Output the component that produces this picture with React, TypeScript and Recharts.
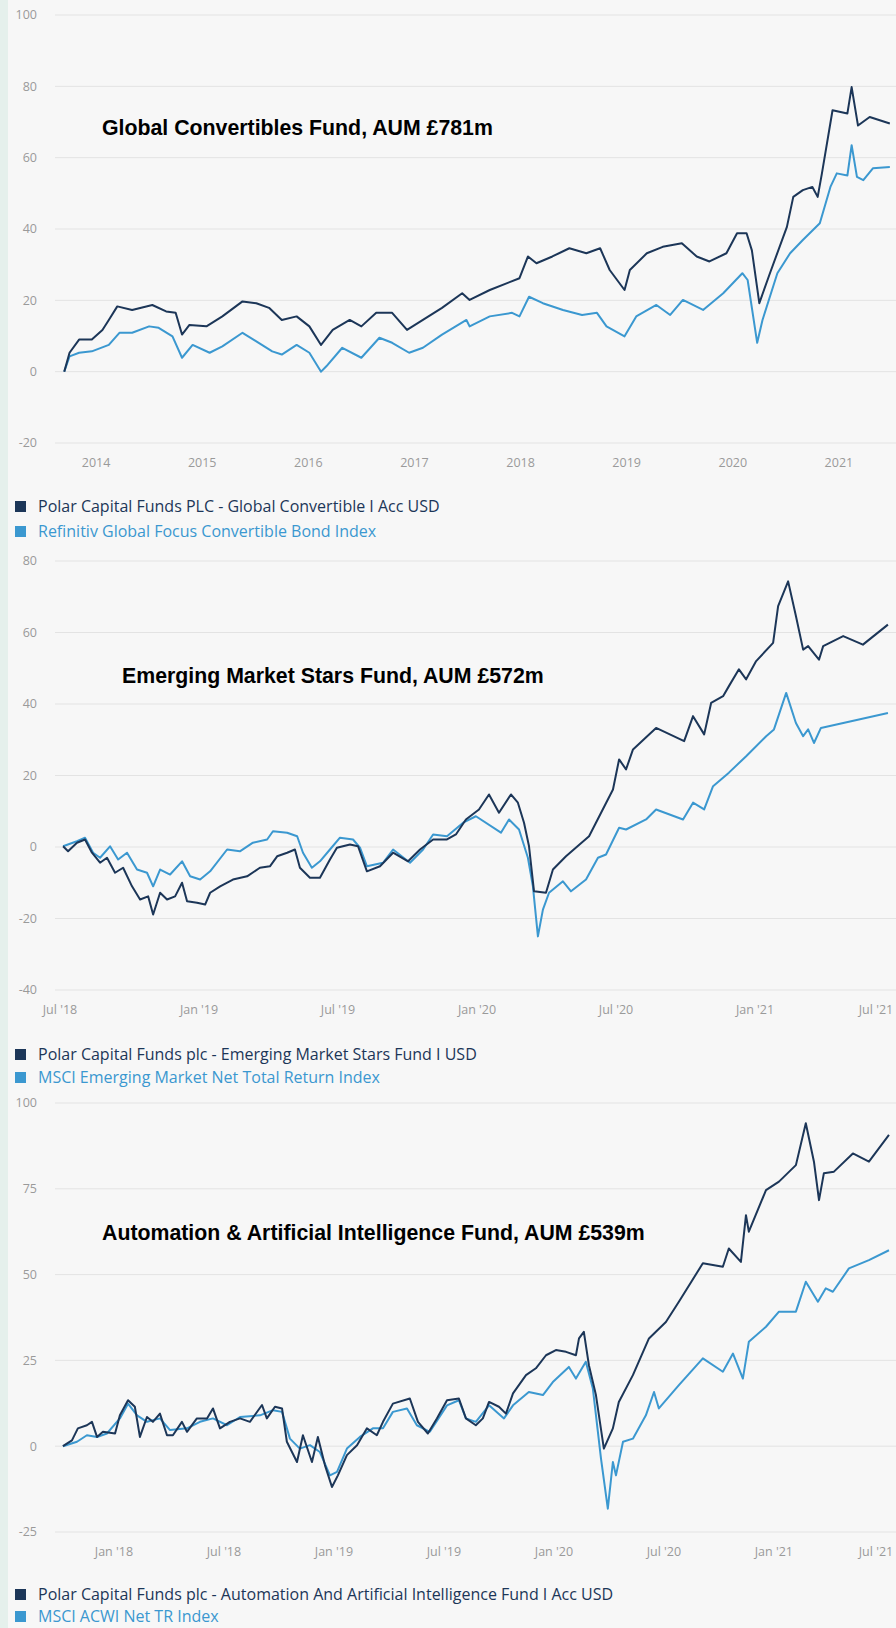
import React from 'react';
import { LineChart, Line, XAxis, YAxis, CartesianGrid } from 'recharts';

// ---------- Global Convertibles Fund ----------
const gcFundYears = [2013.70, 2013.75, 2013.84, 2013.96, 2014.06, 2014.12, 2014.20, 2014.34, 2014.53, 2014.66, 2014.75, 2014.81, 2014.88, 2015.04, 2015.19, 2015.38, 2015.51, 2015.63, 2015.75, 2015.89, 2016.01, 2016.12, 2016.23, 2016.39, 2016.50, 2016.64, 2016.79, 2016.93, 2017.08, 2017.26, 2017.45, 2017.52, 2017.71, 2017.99, 2018.07, 2018.15, 2018.30, 2018.46, 2018.62, 2018.75, 2018.84, 2018.98, 2019.03, 2019.19, 2019.34, 2019.52, 2019.66, 2019.78, 2019.94, 2020.04, 2020.13, 2020.18, 2020.25, 2020.35, 2020.51, 2020.57, 2020.66, 2020.75, 2020.80, 2020.84, 2020.94, 2021.08, 2021.12, 2021.18, 2021.29, 2021.48];
const gcFundValues = [0, 5.3, 9, 9, 11.7, 14.5, 18.3, 17.3, 18.7, 16.9, 16.5, 10.4, 13.1, 12.7, 15.5, 19.7, 19.2, 17.9, 14.5, 15.5, 12.7, 7.5, 11.7, 14.5, 12.7, 16.5, 16.5, 11.7, 14.5, 17.9, 22, 20.1, 22.9, 26.2, 32.3, 30.4, 32.3, 34.6, 33.2, 34.6, 28.5, 22.9, 28.5, 33.2, 35, 36, 32.3, 30.9, 33.2, 38.8, 38.8, 34, 19.2, 27.6, 40.6, 49, 50.9, 51.8, 49, 55.6, 73.3, 72.4, 79.8, 69, 71.4, 69.6];
const gcIndexYears = [2013.70, 2013.75, 2013.84, 2013.96, 2014.12, 2014.22, 2014.34, 2014.50, 2014.59, 2014.72, 2014.81, 2014.91, 2015.07, 2015.19, 2015.38, 2015.51, 2015.66, 2015.75, 2015.89, 2016.01, 2016.12, 2016.17, 2016.32, 2016.50, 2016.67, 2016.79, 2016.95, 2017.08, 2017.26, 2017.49, 2017.52, 2017.71, 2017.92, 2017.99, 2018.08, 2018.21, 2018.40, 2018.58, 2018.72, 2018.81, 2018.98, 2019.09, 2019.28, 2019.41, 2019.53, 2019.72, 2019.91, 2020.09, 2020.14, 2020.23, 2020.28, 2020.42, 2020.54, 2020.66, 2020.82, 2020.92, 2020.98, 2021.08, 2021.12, 2021.17, 2021.23, 2021.32, 2021.48];
const gcIndexValues = [0, 4.3, 5.3, 5.7, 7.5, 10.9, 10.9, 12.7, 12.3, 9.9, 3.9, 7.5, 5.3, 7.1, 10.9, 8.5, 5.7, 4.8, 7.5, 5.3, 0, 1.5, 6.7, 3.9, 9.5, 8.1, 5.3, 6.7, 10.4, 14.5, 12.7, 15.5, 16.5, 15.5, 21, 19.2, 17.3, 15.9, 16.5, 12.7, 9.9, 15.5, 18.7, 15.9, 20.1, 17.3, 22, 27.6, 25.7, 8.1, 14.5, 27.6, 33.2, 36.9, 41.6, 51.8, 55.6, 55, 63.5, 54.6, 53.7, 57, 57.4];
const gcXTicks = [2014, 2015, 2016, 2017, 2018, 2019, 2020, 2021];
const gcXLabels = ['2014', '2015', '2016', '2017', '2018', '2019', '2020', '2021'];
const gcYTicks = [-20, 0, 20, 40, 60, 80, 100];

// ---------- Emerging Market Stars Fund ----------
const emsFundYears = [2018.511, 2018.529, 2018.561, 2018.590, 2018.615, 2018.644, 2018.669, 2018.698, 2018.727, 2018.759, 2018.788, 2018.817, 2018.835, 2018.860, 2018.885, 2018.914, 2018.939, 2018.957, 2018.993, 2019.022, 2019.040, 2019.076, 2019.122, 2019.173, 2019.219, 2019.255, 2019.281, 2019.317, 2019.345, 2019.363, 2019.399, 2019.435, 2019.471, 2019.496, 2019.543, 2019.572, 2019.604, 2019.651, 2019.698, 2019.752, 2019.795, 2019.842, 2019.892, 2019.924, 2019.960, 2020.007, 2020.043, 2020.079, 2020.122, 2020.147, 2020.169, 2020.187, 2020.205, 2020.248, 2020.273, 2020.320, 2020.403, 2020.489, 2020.511, 2020.536, 2020.561, 2020.644, 2020.745, 2020.777, 2020.817, 2020.842, 2020.885, 2020.906, 2020.942, 2020.968, 2021.004, 2021.065, 2021.083, 2021.119, 2021.147, 2021.173, 2021.191, 2021.230, 2021.245, 2021.317, 2021.388, 2021.478];
const emsFundValues = [0.2, -1.2, 1.2, 2.1, -1.6, -4.4, -3, -7.2, -5.8, -11, -14.7, -13.8, -18.9, -12.8, -14.7, -13.8, -10, -15.2, -15.6, -16.1, -12.8, -11, -9.1, -8.2, -5.8, -5.4, -2.6, -1.6, -0.7, -5.8, -8.6, -8.6, -3.5, -0.2, 0.7, 0.2, -6.8, -5.4, -1.6, -4, -0.7, 2.1, 2.1, 3.5, 7.7, 10.5, 14.7, 9.6, 14.7, 12.4, 6.8, 0.2, -12.4, -12.8, -6.3, -2.6, 3, 16.1, 24.5, 21.7, 27.3, 33.3, 29.6, 36.6, 31.5, 40.3, 42.2, 45, 49.7, 46.9, 52, 57.1, 67.4, 74.3, 64.6, 55.2, 56.2, 52.4, 56.2, 59, 56.6, 62.2];
const emsIndexYears = [2018.511, 2018.561, 2018.590, 2018.619, 2018.644, 2018.680, 2018.709, 2018.741, 2018.777, 2018.813, 2018.835, 2018.860, 2018.896, 2018.939, 2018.968, 2019.004, 2019.040, 2019.101, 2019.147, 2019.194, 2019.245, 2019.266, 2019.317, 2019.353, 2019.374, 2019.406, 2019.435, 2019.471, 2019.507, 2019.554, 2019.579, 2019.604, 2019.662, 2019.698, 2019.759, 2019.806, 2019.842, 2019.892, 2019.950, 2019.996, 2020.086, 2020.115, 2020.151, 2020.183, 2020.201, 2020.219, 2020.237, 2020.259, 2020.309, 2020.338, 2020.392, 2020.435, 2020.464, 2020.511, 2020.536, 2020.608, 2020.644, 2020.741, 2020.777, 2020.817, 2020.849, 2020.906, 2020.968, 2021.040, 2021.068, 2021.112, 2021.147, 2021.173, 2021.191, 2021.212, 2021.237, 2021.478];
const emsIndexValues = [0.2, 1.6, 2.6, -1.6, -3, 0.2, -3.5, -1.6, -6.3, -7.2, -11, -6.3, -7.7, -4, -8.2, -9.1, -6.8, -0.7, -1.2, 1.2, 2.1, 4.4, 4, 3, -1.6, -5.8, -4, -0.7, 2.6, 2.1, -0.2, -5.4, -4.4, -0.7, -4.4, -0.7, 3.5, 3, 6.8, 8.6, 4, 7.7, 4.9, -3, -11, -25, -17.5, -12.8, -9.6, -12.4, -9.1, -3, -2.1, 5.4, 4.9, 7.7, 10.5, 7.7, 12.4, 10.5, 17, 20.8, 25.4, 31, 32.9, 43.1, 34.7, 31, 32.9, 29.1, 33.3, 37.5];
const emsXTicks = [2018.5, 2019, 2019.5, 2020, 2020.5, 2021, 2021.5];
const emsXLabels = ["Jul '18", "Jan '19", "Jul '19", "Jan '20", "Jul '20", "Jan '21", "Jul '21"];
const emsYTicks = [-40, -20, 0, 20, 40, 60, 80];

// ---------- Automation & Artificial Intelligence Fund ----------
const aiFundYears = [2017.768, 2017.809, 2017.836, 2017.877, 2017.900, 2017.923, 2017.950, 2018.005, 2018.027, 2018.064, 2018.095, 2018.118, 2018.150, 2018.177, 2018.209, 2018.241, 2018.268, 2018.309, 2018.332, 2018.377, 2018.423, 2018.450, 2018.482, 2018.527, 2018.573, 2018.618, 2018.673, 2018.695, 2018.732, 2018.764, 2018.786, 2018.832, 2018.859, 2018.900, 2018.927, 2018.959, 2018.991, 2019.018, 2019.059, 2019.105, 2019.150, 2019.195, 2019.223, 2019.268, 2019.345, 2019.382, 2019.427, 2019.468, 2019.514, 2019.568, 2019.600, 2019.645, 2019.677, 2019.705, 2019.750, 2019.782, 2019.814, 2019.873, 2019.918, 2019.964, 2020.009, 2020.055, 2020.100, 2020.114, 2020.136, 2020.159, 2020.191, 2020.227, 2020.268, 2020.295, 2020.359, 2020.432, 2020.509, 2020.568, 2020.677, 2020.768, 2020.795, 2020.850, 2020.873, 2020.886, 2020.964, 2021.023, 2021.100, 2021.145, 2021.182, 2021.205, 2021.227, 2021.273, 2021.359, 2021.432, 2021.523];
const aiFundValues = [0, 1.7, 5.2, 6.1, 7.1, 2.7, 4.2, 3.7, 9, 13.4, 11.5, 2.7, 8.5, 7.1, 9.5, 3.2, 3.2, 7.1, 4.2, 8.1, 8.1, 11, 5.2, 7.1, 8.1, 7.1, 12, 8.1, 11.5, 11, 1.3, -4.6, 3.2, -4.6, 2.7, -5.5, -11.9, -8.5, -2.6, 0.3, 5.2, 3.2, 7.1, 12.4, 13.9, 7.1, 3.7, 8.1, 13.4, 13.9, 8.1, 6.1, 8.1, 12.9, 11.5, 9.5, 15.4, 20.7, 22.7, 26.5, 28, 27.5, 26.5, 31.4, 33.3, 23.6, 14.9, -0.7, 5.2, 12.9, 20.7, 31.4, 36.2, 42.1, 53.3, 52.3, 57.6, 53.7, 67.3, 62.5, 74.6, 77.1, 81.9, 94.1, 82.9, 71.7, 79.5, 80, 85.3, 82.9, 90.7];
const aiIndexYears = [2017.768, 2017.832, 2017.877, 2017.923, 2017.968, 2018.027, 2018.064, 2018.105, 2018.150, 2018.209, 2018.255, 2018.332, 2018.391, 2018.450, 2018.514, 2018.573, 2018.664, 2018.723, 2018.764, 2018.800, 2018.845, 2018.891, 2018.936, 2018.982, 2019.014, 2019.059, 2019.118, 2019.177, 2019.223, 2019.268, 2019.332, 2019.377, 2019.436, 2019.514, 2019.568, 2019.600, 2019.645, 2019.705, 2019.773, 2019.814, 2019.886, 2019.950, 2019.995, 2020.068, 2020.100, 2020.145, 2020.177, 2020.214, 2020.245, 2020.268, 2020.282, 2020.314, 2020.359, 2020.418, 2020.455, 2020.477, 2020.568, 2020.677, 2020.768, 2020.814, 2020.859, 2020.886, 2020.964, 2021.023, 2021.100, 2021.145, 2021.200, 2021.236, 2021.268, 2021.341, 2021.432, 2021.523];
const aiIndexValues = [0, 1.3, 3.2, 2.7, 3.7, 8.1, 12.4, 9, 7.1, 8.1, 4.7, 5.2, 7.1, 8.1, 6.1, 8.5, 9, 10.5, 10, 2.2, -0.7, 0.3, -1.7, -8.5, -7.5, -0.7, 2.7, 5.2, 5.2, 10, 11, 6.1, 4.2, 11.9, 13.4, 8.1, 7.1, 11.9, 8.1, 11.9, 15.8, 14.9, 18.7, 23.1, 19.7, 24.6, 16.8, -3.6, -18.2, -4.6, -8.5, 1.3, 2.2, 9, 15.8, 11, 17.8, 25.6, 21.7, 27, 19.7, 30.4, 34.8, 39.2, 39.2, 47.9, 42.1, 46, 45, 51.8, 54.2, 57.1];
const aiXTicks = [2018, 2018.5, 2019, 2019.5, 2020, 2020.5, 2021, 2021.5];
const aiXLabels = ["Jan '18", "Jul '18", "Jan '19", "Jul '19", "Jan '20", "Jul '20", "Jan '21", "Jul '21"];
const aiYTicks = [-25, 0, 25, 50, 75, 100];

const DARK = '#1c3658';
const LIGHT = '#3b98d0';
const TICK_FONT = '"Open Sans", "Noto Sans", sans-serif';

const toSeries = (xs: number[], ys: number[]) => xs.map((t, i) => ({ t, v: ys[i] }));

type ChartProps = {
  plotTop: number;
  plotBottom: number;
  xDomain: [number, number];
  xTicks: number[];
  xLabels: string[];
  maxLabelX: number;
  yDomain: [number, number];
  yTicks: number[];
  fund: { t: number; v: number }[];
  index: { t: number; v: number }[];
  fundName: string;
  indexName: string;
  title: string;
  titleLeft: number;
  titleCenterY: number;
  legendY: [number, number];
};

const FundChart = (p: ChartProps) => {
  const padTop = 10;
  const xAxisH = 40;
  const height = p.plotBottom - p.plotTop + padTop + xAxisH;
  const renderXTick = (props: any) => {
    const { x, y, payload } = props;
    const idx = p.xTicks.indexOf(payload.value);
    const label = idx >= 0 ? p.xLabels[idx] : String(payload.value);
    return (
      <text
        x={Math.min(x, p.maxLabelX)}
        y={y}
        dy="0.71em"
        textAnchor="middle"
        fill="#9a9a9a"
        fontSize={12.5}
        fontFamily={TICK_FONT}
      >
        {label}
      </text>
    );
  };
  return (
    <>
      <div style={{ position: 'absolute', left: 0, top: p.plotTop - padTop }}>
        <LineChart
          width={896}
          height={height}
          margin={{ top: padTop, right: 0, bottom: 0, left: 0 }}
        >
          <CartesianGrid vertical={false} stroke="#e3e3e3" strokeWidth={1} />
          <XAxis
            type="number"
            dataKey="t"
            domain={p.xDomain}
            ticks={p.xTicks}
            interval={0}
            allowDataOverflow
            axisLine={false}
            tickLine={false}
            tickSize={0}
            tickMargin={15}
            height={xAxisH}
            tick={renderXTick}
          />
          <YAxis
            type="number"
            domain={p.yDomain}
            ticks={p.yTicks}
            interval={0}
            allowDataOverflow
            axisLine={false}
            tickLine={false}
            tickSize={0}
            tickMargin={18}
            width={55}
            tick={{ fill: '#9a9a9a', fontSize: 12.5, fontFamily: TICK_FONT }}
          />
          <Line
            data={p.index}
            dataKey="v"
            name={p.indexName}
            type="linear"
            stroke={LIGHT}
            strokeWidth={2}
            dot={false}
            activeDot={false}
            isAnimationActive={false}
            strokeLinejoin="round"
          />
          <Line
            data={p.fund}
            dataKey="v"
            name={p.fundName}
            type="linear"
            stroke={DARK}
            strokeWidth={2}
            dot={false}
            activeDot={false}
            isAnimationActive={false}
            strokeLinejoin="round"
          />
        </LineChart>
      </div>
      <div
        style={{
          position: 'absolute',
          left: p.titleLeft,
          top: p.titleCenterY - 13,
          height: 26,
          lineHeight: '26px',
          fontFamily: '"Liberation Sans", Arial, sans-serif',
          fontWeight: 'bold',
          fontSize: 21.3,
          color: '#000',
          whiteSpace: 'nowrap',
        }}
      >
        {p.title}
      </div>
      {[
        { name: p.fundName, color: DARK },
        { name: p.indexName, color: LIGHT },
      ].map((item, i) => (
        <div
          key={item.name}
          style={{
            position: 'absolute',
            left: 15,
            top: p.legendY[i] - 11,
            height: 22,
            lineHeight: '22px',
            display: 'flex',
            alignItems: 'center',
            whiteSpace: 'nowrap',
            fontFamily: TICK_FONT,
            fontSize: 16,
            color: item.color,
          }}
        >
          <span
            style={{
              display: 'inline-block',
              width: 11,
              height: 11,
              background: item.color,
              marginRight: 12,
            }}
          />
          {item.name}
        </div>
      ))}
    </>
  );
};

export default function App() {
  return (
    <div
      style={{
        position: 'relative',
        width: 896,
        height: 1628,
        overflow: 'hidden',
        background: '#f7f7f7',
      }}
    >
      <style>{`body{margin:0;}`}</style>
      <div style={{ position: 'absolute', left: 0, top: 0, width: 8, height: 1628, background: '#e5f0ec' }} />
      <FundChart
        plotTop={15}
        plotBottom={443}
        xDomain={[2013.613, 2021.538]}
        xTicks={gcXTicks}
        xLabels={gcXLabels}
        maxLabelX={2000}
        yDomain={[-20, 100]}
        yTicks={gcYTicks}
        fund={toSeries(gcFundYears, gcFundValues)}
        index={toSeries(gcIndexYears, gcIndexValues)}
        fundName="Polar Capital Funds PLC - Global Convertible I Acc USD"
        indexName="Refinitiv Global Focus Convertible Bond Index"
        title="Global Convertibles Fund, AUM £781m"
        titleLeft={102}
        titleCenterY={128}
        legendY={[506, 531]}
      />
      <FundChart
        plotTop={561}
        plotBottom={990}
        xDomain={[2018.482, 2021.507]}
        xTicks={emsXTicks}
        xLabels={emsXLabels}
        maxLabelX={876}
        yDomain={[-40, 80]}
        yTicks={emsYTicks}
        fund={toSeries(emsFundYears, emsFundValues)}
        index={toSeries(emsIndexYears, emsIndexValues)}
        fundName="Polar Capital Funds plc - Emerging Market Stars Fund I USD"
        indexName="MSCI Emerging Market Net Total Return Index"
        title="Emerging Market Stars Fund, AUM £572m"
        titleLeft={122}
        titleCenterY={676}
        legendY={[1054, 1077]}
      />
      <FundChart
        plotTop={1103}
        plotBottom={1532}
        xDomain={[2017.732, 2021.555]}
        xTicks={aiXTicks}
        xLabels={aiXLabels}
        maxLabelX={876}
        yDomain={[-25, 100]}
        yTicks={aiYTicks}
        fund={toSeries(aiFundYears, aiFundValues)}
        index={toSeries(aiIndexYears, aiIndexValues)}
        fundName="Polar Capital Funds plc - Automation And Artificial Intelligence Fund I Acc USD"
        indexName="MSCI ACWI Net TR Index"
        title="Automation & Artificial Intelligence Fund, AUM £539m"
        titleLeft={102}
        titleCenterY={1233}
        legendY={[1594, 1616]}
      />
    </div>
  );
}
